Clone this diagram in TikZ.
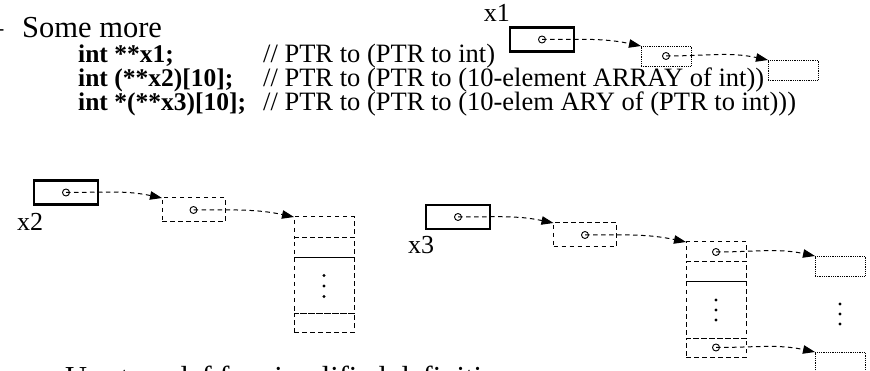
\documentclass[tikz,border=0pt]{standalone}
\usepackage{fontspec}
\setmainfont{Liberation Serif}
\usetikzlibrary{arrows.meta, positioning, calc}
\tikzset{
  ptrbox/.style={draw, line width=2.2pt, minimum width=64pt, minimum height=24pt, inner sep=0pt, outer sep=0pt},
  dashbox/.style={draw, line width=1pt, dash pattern=on 4.5pt off 3.5pt, minimum width=63pt, minimum height=24pt, inner sep=0pt, outer sep=0pt},
  dotbox/.style={draw, line width=0.9pt, dash pattern=on 0.9pt off 0.9pt, minimum width=50pt, minimum height=20pt, inner sep=0pt, outer sep=0pt},
  cellbox/.style={dashbox, minimum width=60pt},
  ptrdot/.style={circle, draw, line width=0.9pt, minimum size=7pt, inner sep=0pt},
  elemdot/.style={circle, fill, minimum size=3.4pt, inner sep=0pt},
  ptrarrow/.style={line width=1pt, dash pattern=on 4.5pt off 3.5pt, -{Triangle[length=12pt,width=8.5pt]}},
  codetext/.style={anchor=base west, inner sep=0pt, font=\fontsize{26.5}{28}\selectfont},
  boldtext/.style={codetext, font=\fontsize{25.5}{28}\selectfont\bfseries},
  bigtext/.style={anchor=base west, inner sep=0pt, font=\fontsize{30.5}{32}\selectfont},
  labeltext/.style={inner sep=0pt, font=\fontsize{26}{28}\selectfont}
}
\begin{document}
\begin{tikzpicture}[x=1pt, y=-1pt]
	\useasboundingbox (0,0) rectangle (870,371);
	\clip (0,0) rectangle (870,371);
	
	\node[bigtext, anchor=base east] (bullet) at (3.5,38) {–};
	\node[bigtext] (some) at (22,38) {Some more};
	\node[boldtext] (decla) at (78,63) {int **x1;};
	\node[boldtext] (declb) at (78,87) {int (**x2)[10];};
	\node[boldtext] (declc) at (78,111) {int *(**x3)[10];};
	\node[codetext] (cmta) at (263,63) {// PTR to (PTR to int)};
	\node[codetext] (cmtb) at (263,87) {// PTR to (PTR to (10-element ARRAY of int))};
	\node[codetext] (cmtc) at (263,111) {// PTR to (PTR to (10-elem ARY of (PTR to int)))};
	\node[bigtext] (next) at (65,387) {Use typedef for simplified definitions};
	
	% x1
	\node[ptrbox] (xa) at (542,39.5) {};
	\node[labeltext, anchor=base east] (xalabel) at (510,22) {x1};
	\node[dotbox] (xapa) at (666,56) {};
	\node[dotbox] (xapb) at (793,70) {};
	\node[ptrdot] (xadota) at (xa.center) {};
	\node[ptrdot] (xadotb) at (xapa.center) {};
	\draw[ptrarrow] (xadota.center) to[out=0, in=168] (xapa.north west);
	\draw[ptrarrow] (xadotb.center) to[out=0, in=168] (xapb.north west);
	
	% x2
	\node[ptrbox] (xb) at (66,192.5) {};
	\node[labeltext, anchor=base west] (xblabel) at (17,231) {x2};
	\node[dashbox] (xbpa) at (193.5,210) {};
	\node[cellbox, minimum height=21pt] (xbca) at (324,227.5) {};
	\node[cellbox, minimum height=20pt, below=0pt of xbca] (xbcb) {};
	\node[cellbox, minimum height=56pt, below=0pt of xbcb] (xbcc) {};
	\node[cellbox, minimum height=18pt, below=0pt of xbcc] (xbcd) {};
	\node[ptrdot] (xbdota) at (xb.center) {};
	\node[ptrdot] (xbdotb) at (xbpa.center) {};
	\foreach \d in {-10.5,0,10.5}
		\node[elemdot] at ([yshift=\d]xbcc.center) {};
	\draw[ptrarrow] (xbdota.center) to[out=0, in=168] (xbpa.north west);
	\draw[ptrarrow] (xbdotb.center) to[out=0, in=168] (xbca.north west);
	
	% x3
	\node[ptrbox] (xc) at (458,217) {};
	\node[labeltext, anchor=base west] (xclabel) at (408,254) {x3};
	\node[dashbox] (xcpa) at (585,235) {};
	\node[cellbox, minimum height=20pt] (xcca) at (716,252) {};
	\node[cellbox, minimum height=20pt, below=0pt of xcca] (xccb) {};
	\node[cellbox, minimum height=56pt, below=0pt of xccb] (xccc) {};
	\node[cellbox, minimum height=19pt, below=0pt of xccc] (xccd) {};
	\node[dotbox] (xcia) at (840,266) {};
	\node[dotbox] (xcib) at (840,362) {};
	\node[ptrdot] (xcdota) at (xc.center) {};
	\node[ptrdot] (xcdotb) at (xcpa.center) {};
	\node[ptrdot] (xcdotc) at (xcca.center) {};
	\node[ptrdot] (xcdotd) at (xccd.center) {};
	\foreach \d in {-10,0,10}{
		\node[elemdot] at ([yshift=\d]xccc.center) {};
		\node[elemdot] at ([yshift=\d]$(xcia)!0.5!(xcib)$) {};
	}
	\draw[ptrarrow] (xcdota.center) to[out=0, in=168] (xcpa.north west);
	\draw[ptrarrow] (xcdotb.center) to[out=0, in=168] (xcca.north west);
	\draw[ptrarrow] (xcdotc.center) to[out=0, in=168] (xcia.north west);
	\draw[ptrarrow] (xcdotd.center) to[out=0, in=168] (xcib.north west);
\end{tikzpicture}
\end{document}
